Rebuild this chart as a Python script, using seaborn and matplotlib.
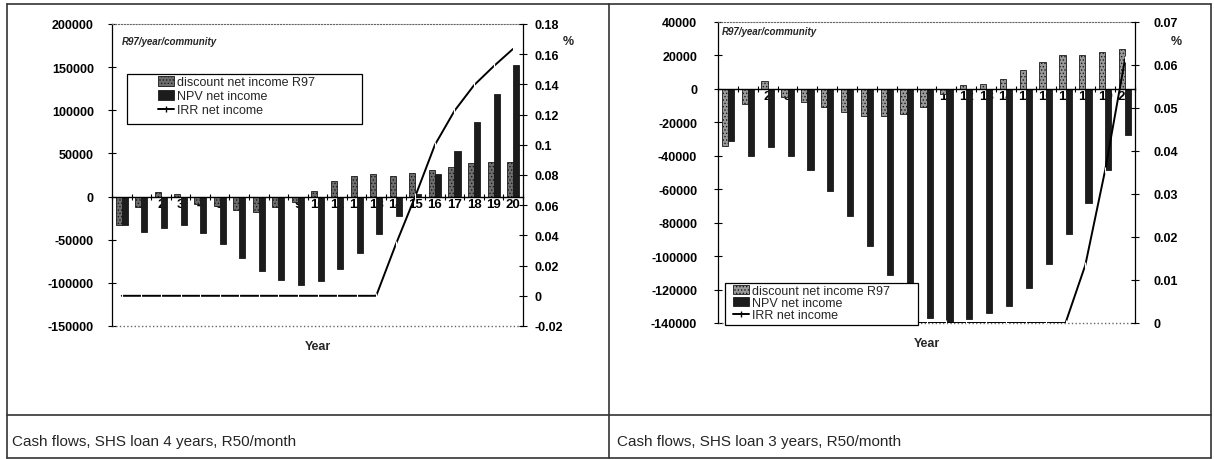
import numpy as np
import pandas as pd
import matplotlib
matplotlib.use("Agg")
import matplotlib.pyplot as plt
import seaborn as sns
from matplotlib.lines import Line2D
from matplotlib.patches import Rectangle, Patch
from matplotlib.ticker import FixedLocator, FuncFormatter

# ---------------- data ----------------
years = [0, 1, 2, 3, 4, 5, 6, 7, 8, 9, 10, 11, 12, 13, 14, 15, 16, 17, 18, 19, 20]
series_names = ["discount net income R97", "NPV net income", "IRR net income"]

left_discount = [-33000, -12000, 5000, 3000, -9000, -11000, -16000, -18000, -12000, -6000,
                 7000, 18000, 24000, 26000, 24000, 27000, 31000, 34000, 39000, 40000, 40500]
left_npv = [-33000, -41000, -37000, -33000, -42000, -55000, -71000, -86000, -97000, -103000,
            -98000, -84000, -65000, -43000, -22000, 3000, 26000, 53000, 86000, 119000, 153000]
left_irr = [0, 0, 0, 0, 0, 0, 0, 0, 0, 0, 0, 0, 0, 0,
            0.034, 0.066, 0.100, 0.1225, 0.1395, 0.152, 0.1636]

right_discount = [-34000, -9000, 4500, -5000, -8000, -11000, -14000, -16000, -16000, -15000,
                  -11000, -3000, 2500, 3000, 6000, 11500, 16000, 20000, 20000, 22000, 24000]
right_npv = [-31000, -40000, -35000, -40000, -48500, -61000, -76000, -94000, -111000, -126000,
             -137000, -140000, -137500, -134000, -130000, -119000, -105000, -87000, -68000, -48500, -27500]
right_irr = [0, 0, 0, 0, 0, 0, 0, 0, 0, 0, 0, 0, 0, 0, 0, 0, 0, 0,
             0.0135, 0.0356, 0.0614]

left_yticks = [-150000, -100000, -50000, 0, 50000, 100000, 150000, 200000]
left_pticks = [-0.02, 0, 0.02, 0.04, 0.06, 0.08, 0.1, 0.12, 0.14, 0.16, 0.18]
right_yticks = [-140000, -120000, -100000, -80000, -60000, -40000, -20000, 0, 20000, 40000]
right_pticks = [0, 0.01, 0.02, 0.03, 0.04, 0.05, 0.06, 0.07]

captions = ["Cash flows, SHS loan 4 years, R50/month", "Cash flows, SHS loan 3 years, R50/month"]
unit_label = "R97/year/community"
x_label = "Year"
pct_label = "%"

# ---------------- style ----------------
W, H = 1214, 460
sns.set_style("white")
plt.rcParams["font.family"] = ["Liberation Sans", "DejaVu Sans"]
plt.rcParams["hatch.linewidth"] = 0.6

LIGHT_L = "#6e6e6e"
LIGHT_R = "#9a9a9a"
DARK = "#1c1c1c"
EDGE = "#1a1a1a"

fig = plt.figure(figsize=(W / 100, H / 100), dpi=100)


def px_axes(x0, y0, x1, y1):
    return fig.add_axes([x0 / W, 1 - y1 / H, (x1 - x0) / W, (y1 - y0) / H])


def draw_panel(ax, disc, npv, irr, yticks, pticks, ylim, plim, rect, leg_anchor,
               unit_pos, pct_pos, ylab_pad, plab_pad, leg_fs, leg_spacing, light):
    n = len(years)
    df = pd.DataFrame({
        "year": years + years,
        "value": disc + npv,
        "series": [series_names[0]] * n + [series_names[1]] * n,
    })
    sns.barplot(data=df, x="year", y="value", hue="series", palette=[light, DARK],
                width=0.62, saturation=1, edgecolor=EDGE, linewidth=0.6,
                legend=False, ax=ax, zorder=2)
    for bar in ax.containers[0]:
        bar.set_hatch(".....")

    ax.set_xlim(-0.5, len(years) - 0.5)
    ax.set_ylim(*ylim)
    ax.set_xlabel("")
    ax.set_ylabel("")
    ax.set_yticks(yticks)
    ax.yaxis.set_major_formatter(FuncFormatter(lambda v, p: f"{int(round(v))}"))
    ax.tick_params(axis="y", direction="inout", length=6, width=0.8, labelsize=9,
                   pad=ylab_pad, colors="black")
    for lab in ax.get_yticklabels():
        lab.set_fontweight("bold")

    ax.spines["bottom"].set_position(("data", 0))
    ax.spines["bottom"].set_color("black")
    ax.spines["bottom"].set_linewidth(1.0)
    ax.spines["bottom"].set_zorder(3)
    ax.spines["left"].set_color("black")
    ax.spines["left"].set_linewidth(0.9)
    ax.spines["right"].set_visible(False)
    ax.spines["top"].set_linestyle(":")
    ax.spines["top"].set_color("#666666")
    ax.axhline(ylim[0], color="#666666", ls=":", lw=1.0, clip_on=False, zorder=1)

    ax.xaxis.set_minor_locator(FixedLocator(np.arange(-0.5, len(years) - 0.4, 1.0)))
    ax.tick_params(axis="x", which="major", length=0, pad=1, labelsize=9.5, colors="black")
    ax.tick_params(axis="x", which="minor", direction="inout", length=5, width=0.8,
                   bottom=True, color="black")
    for lab in ax.get_xticklabels():
        lab.set_fontweight("bold")
    ax.set_facecolor("white")

    ax2 = ax.twinx()
    sns.lineplot(x=years, y=irr, ax=ax2, color="black", lw=1.4, marker="|",
                 markersize=4, markeredgewidth=0.8, zorder=3)
    ax2.set_ylim(*plim)
    ax2.set_yticks(pticks)
    ax2.yaxis.set_major_formatter(FuncFormatter(lambda v, p: f"{v:g}"))
    ax2.tick_params(axis="y", direction="inout", length=6, width=0.8, labelsize=9,
                    pad=plab_pad, colors="black")
    for lab in ax2.get_yticklabels():
        lab.set_fontweight("bold")
    for s in ["top", "bottom", "left"]:
        ax2.spines[s].set_visible(False)
    ax2.spines["right"].set_color("black")
    ax2.spines["right"].set_linewidth(0.9)
    ax2.set_ylabel("")

    # legend
    rx0, ry0, rx1, ry1 = rect
    ax2.add_patch(Rectangle((rx0, ry0), rx1 - rx0, ry1 - ry0, transform=ax2.transAxes,
                            facecolor="white", edgecolor="black", lw=0.9, zorder=5,
                            clip_on=False))
    handles = [
        Patch(facecolor=light, edgecolor=EDGE, hatch=".....", lw=0.6),
        Patch(facecolor=DARK, edgecolor=EDGE, lw=0.6),
        Line2D([0], [0], color="black", lw=1.4, marker="|", markersize=4),
    ]
    leg = ax2.legend(handles, series_names, loc="upper left", bbox_to_anchor=leg_anchor,
                     bbox_transform=ax2.transAxes, frameon=False, fontsize=leg_fs,
                     handlelength=1.3, handleheight=0.8, labelspacing=leg_spacing,
                     handletextpad=0.2, borderaxespad=0, borderpad=0)
    leg.set_zorder(6)

    ax.text(unit_pos[0], unit_pos[1], unit_label, transform=ax.transAxes, fontsize=7,
            fontweight="bold", style="italic", va="center", ha="left")
    ax.text(0.5, -0.066, x_label, transform=ax.transAxes, fontsize=9, fontweight="bold",
            ha="center", va="center")
    ax2.text(pct_pos[0], pct_pos[1], pct_label, transform=ax2.transAxes, fontsize=9,
             fontweight="bold", ha="center", va="center")
    return ax, ax2


# left panel
axL = px_axes(112, 25, 523, 327)
draw_panel(axL, left_discount, left_npv, left_irr, left_yticks, left_pticks,
           (-150000, 200000), (-0.02, 0.18),
           rect=(0.0365, 0.669, 0.608, 0.834), leg_anchor=(0.112, 0.828),
           unit_pos=(0.024, 0.944), pct_pos=(1.11, 0.944),
           ylab_pad=10, plab_pad=5, leg_fs=9, leg_spacing=0.15, light=LIGHT_L)

# right panel
axR = px_axes(718, 23, 1135, 324)
draw_panel(axR, right_discount, right_npv, right_irr, right_yticks, right_pticks,
           (-140000, 40000), (0, 0.07),
           rect=(0.0168, -0.0066, 0.48, 0.133), leg_anchor=(0.036, 0.127),
           unit_pos=(0.008, 0.97), pct_pos=(1.10, 0.937),
           ylab_pad=12, plab_pad=10, leg_fs=9, leg_spacing=0.0, light=LIGHT_R)

# table frame
def hline(y, x0, x1, lw=1.2):
    fig.add_artist(Line2D([x0 / W, x1 / W], [1 - y / H, 1 - y / H], color="#333333", lw=lw))

def vline(x, y0, y1, lw=1.2):
    fig.add_artist(Line2D([x / W, x / W], [1 - y0 / H, 1 - y1 / H], color="#333333", lw=lw))

hline(5, 7, 1211)
hline(416, 7, 1211)
hline(459, 7, 1211)
vline(7, 5, 459)
vline(1211, 5, 459)
vline(609, 5, 459)

fig.text(12 / W, 1 - 442 / H, captions[0], fontsize=11, ha="left", va="center")
fig.text(617 / W, 1 - 442 / H, captions[1], fontsize=11, ha="left", va="center")

fig.savefig("out.png", dpi=100)
